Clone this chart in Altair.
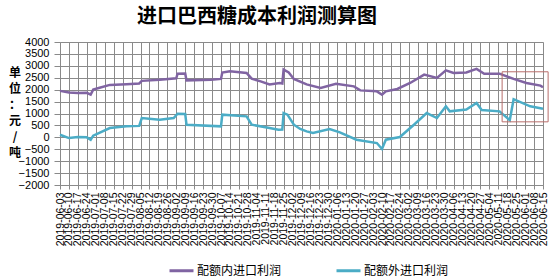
import altair as alt
import pandas as pd

title_text = "进口巴西糖成本利润测算图"
y_title_lines = ["单", "位", "：", "元", "/", "吨"]
series_names = ["配额内进口利润", "配额外进口利润"]
series_colors = ["#8064A2", "#4BACC6"]

tick_labels = [
    "2019-06-03", "2019-06-10", "2019-06-17", "2019-06-24", "2019-07-01", "2019-07-08",
    "2019-07-15", "2019-07-22", "2019-07-29", "2019-08-05", "2019-08-12", "2019-08-19",
    "2019-08-26", "2019-09-02", "2019-09-09", "2019-09-16", "2019-09-23", "2019-09-30",
    "2019-10-07", "2019-10-14", "2019-10-21", "2019-10-28", "2019-11-04", "2019-11-11",
    "2019-11-18", "2019-11-25", "2019-12-02", "2019-12-09", "2019-12-16", "2019-12-23",
    "2019-12-30", "2020-01-06", "2020-01-13", "2020-01-20", "2020-01-27", "2020-02-03",
    "2020-02-10", "2020-02-17", "2020-02-24", "2020-03-02", "2020-03-09", "2020-03-16",
    "2020-03-23", "2020-03-30", "2020-04-06", "2020-04-13", "2020-04-20", "2020-04-27",
    "2020-05-04", "2020-05-11", "2020-05-18", "2020-05-25", "2020-06-01", "2020-06-08",
    "2020-06-15",
]

inner_dates = [
    "2019-06-03", "2019-06-10", "2019-06-17", "2019-06-24", "2019-06-27", "2019-06-29",
    "2019-07-04", "2019-07-12", "2019-07-25", "2019-08-04", "2019-08-06", "2019-08-20",
    "2019-09-02", "2019-09-03", "2019-09-09", "2019-09-10", "2019-09-29", "2019-10-07",
    "2019-10-08", "2019-10-14", "2019-10-27", "2019-10-31", "2019-11-07", "2019-11-14",
    "2019-11-22", "2019-11-24", "2019-11-25", "2019-11-29", "2019-12-03", "2019-12-13",
    "2019-12-24", "2020-01-05", "2020-01-19", "2020-01-24", "2020-02-06", "2020-02-10",
    "2020-02-13", "2020-02-22", "2020-03-03", "2020-03-14", "2020-03-24", "2020-03-31",
    "2020-04-06", "2020-04-16", "2020-04-24", "2020-04-30", "2020-05-12", "2020-05-23",
    "2020-06-02", "2020-06-13", "2020-06-15",
]
inner_values = [
    1950, 1880, 1860, 1870, 1790, 2000,
    2080, 2200, 2230, 2260, 2370, 2420,
    2480, 2670, 2680, 2390, 2420, 2450,
    2720, 2770, 2700, 2460, 2350, 2220,
    2280, 2260, 2840, 2720, 2450, 2220,
    2070, 2250, 2140, 1970, 1930, 1790,
    1930, 2030, 2280, 2630, 2490, 2810,
    2700, 2725, 2870, 2670, 2670, 2450,
    2280, 2170, 2100,
]

outer_dates = [
    "2019-06-03", "2019-06-10", "2019-06-17", "2019-06-24", "2019-06-27", "2019-06-29",
    "2019-07-12", "2019-07-25", "2019-08-04", "2019-08-06", "2019-08-20", "2019-08-31",
    "2019-09-03", "2019-09-09", "2019-09-10", "2019-10-07", "2019-10-08", "2019-10-27",
    "2019-10-31", "2019-11-14", "2019-11-21", "2019-11-24", "2019-11-25", "2019-11-28",
    "2019-12-03", "2019-12-08", "2019-12-13", "2019-12-18", "2019-12-31", "2020-01-08",
    "2020-01-21", "2020-02-06", "2020-02-10", "2020-02-13", "2020-02-24", "2020-03-06",
    "2020-03-16", "2020-03-24", "2020-03-31", "2020-04-03", "2020-04-16", "2020-04-24",
    "2020-04-28", "2020-05-12", "2020-05-20", "2020-05-23", "2020-06-05", "2020-06-15",
]
outer_values = [
    110, -30, 10, 0, -100, 70,
    390, 460, 480, 810, 740, 810,
    990, 980, 530, 460, 950, 880,
    530, 390, 320, 330, 1020, 950,
    530, 350, 250, 180, 350, 210,
    -100, -240, -490, -100, 13, 530,
    1020, 810, 1300, 1090, 1170, 1440,
    1150, 1090, 720, 1600, 1300, 1200,
]

box_x = ["2020-05-14"]
box_x2 = ["2020-06-19"]
box_y = [2750]
box_y2 = [650]

y_ticks = list(range(-2000, 4001, 500))


def dt(s):
    y, m, d = (int(p) for p in s.split("-"))
    return alt.DateTime(year=y, month=m, date=d, utc=True)


df = pd.concat([
    pd.DataFrame({"date": inner_dates, "value": inner_values, "series": series_names[0]}),
    pd.DataFrame({"date": outer_dates, "value": outer_values, "series": series_names[1]}),
])
box_df = pd.DataFrame({"x": box_x, "x2": box_x2, "y": box_y, "y2": box_y2})

FONT = "Liberation Sans"
CJK = "Noto Sans CJK SC"
GRID = "#8a8a8a"

x_scale = alt.Scale(type="utc", domain=[dt(tick_labels[0]), dt(tick_labels[-1])])
y_scale = alt.Scale(domain=[-2000, 4000], nice=False)

x_axis = alt.Axis(
    values=[dt(s) for s in tick_labels],
    labelExpr="utcFormat(datum.value, '%Y-%m-%d')",
    labelAngle=270, labelFontSize=10.5, labelFont=FONT, labelColor="#000000",
    labelPadding=3, labelOverlap=False, labelFlush=False, labelBound=False,
    tickSize=4, tickColor=GRID, domainColor=GRID, gridColor=GRID, gridWidth=1,
    grid=True, title=None,
)
y_axis = alt.Axis(
    values=y_ticks, format="d", labelFontSize=11, labelFont=FONT,
    labelColor="#000000", labelPadding=5, tickSize=6, tickColor=GRID,
    domainColor=GRID, gridColor=GRID, gridWidth=1, grid=True, title=None,
)

lines = alt.Chart(df).mark_line(strokeWidth=2.5, clip=False).encode(
    x=alt.X("date:T", scale=x_scale, axis=x_axis),
    y=alt.Y("value:Q", scale=y_scale, axis=y_axis),
    color=alt.Color(
        "series:N",
        scale=alt.Scale(domain=series_names, range=series_colors),
        legend=alt.Legend(
            orient="none", legendX=108, legendY=215, direction="horizontal",
            title=None, symbolType="stroke", symbolSize=576, symbolStrokeWidth=3,
            labelFont=CJK, labelFontSize=12, labelColor="#000000", labelOffset=2,
            columnPadding=48, labelLimit=200,
        ),
    ),
)

box = alt.Chart(box_df).mark_rect(
    filled=False, stroke="#b86d6b", strokeWidth=1, clip=False
).encode(
    x=alt.X("x:T", scale=x_scale, axis=x_axis),
    x2="x2:T",
    y=alt.Y("y:Q", scale=y_scale, axis=y_axis),
    y2="y2:Q",
)

title = alt.Chart(pd.DataFrame({"t": [title_text]})).mark_text(
    font=CJK, fontSize=20, fontWeight="bold", color="#000000",
    align="center", baseline="middle",
).encode(x=alt.value(197), y=alt.value(-25), text="t:N")

ytitle = alt.Chart(pd.DataFrame({"t": ["\n".join(y_title_lines)]})).mark_text(
    font=CJK, fontSize=12, fontWeight="bold", color="#000000",
    align="center", baseline="top", lineBreak="\n", lineHeight=16,
).encode(x=alt.value(-45), y=alt.value(26), text="t:N")

chart = alt.layer(lines, box, title, ytitle).properties(
    width=483, height=143,
    padding={"left": 60, "top": 42, "right": 7, "bottom": 94},
    autosize=alt.AutoSizeParams(type="none"),
).configure_view(stroke=None).configure(background="#ffffff")

chart.save("out.html", embed_options={"renderer": "svg", "actions": False})
